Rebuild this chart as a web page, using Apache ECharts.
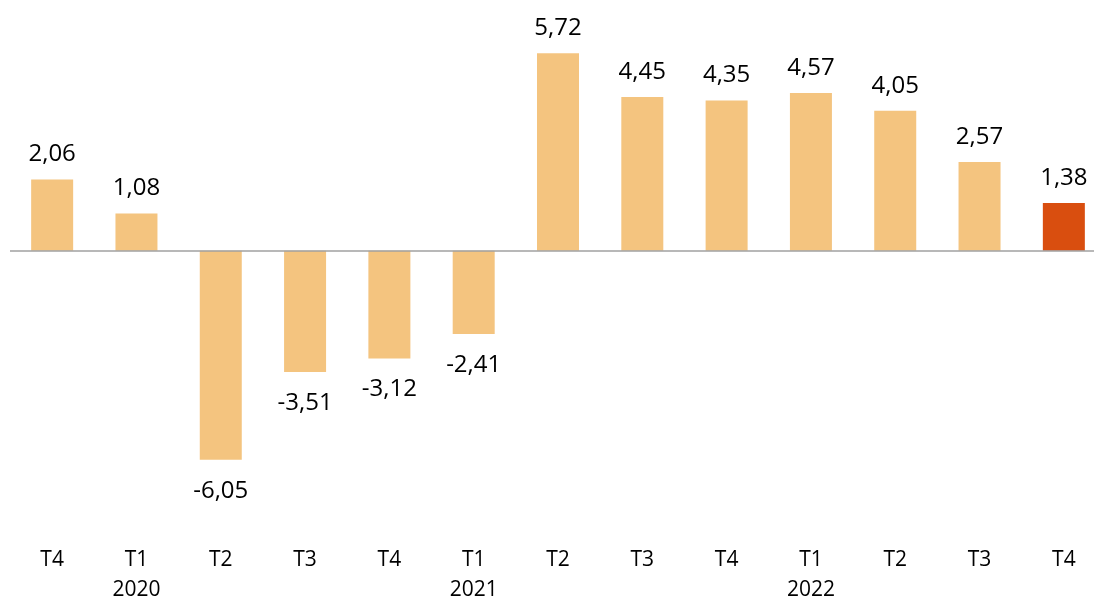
<!DOCTYPE html>
<html>
<head>
<meta charset="utf-8">
<script src="https://cdn.jsdelivr.net/npm/echarts@6/dist/echarts.min.js"></script>
<style>html,body{margin:0;padding:0;background:#fff;}#c{width:1094px;height:596px;}</style>
</head>
<body>
<div id="c"></div>
<script>
const quarters = ['T4','T1','T2','T3','T4','T1','T2','T3','T4','T1','T2','T3','T4'];
const years = ['','2020','','','','2021','','','','2022','','',''];
const values = [2.06, 1.08, -6.05, -3.51, -3.12, -2.41, 5.72, 4.45, 4.35, 4.57, 4.05, 2.57, 1.38];
const highlightIndex = 12;

const categories = quarters.map((q, i) => years[i] ? q + '\n' + years[i] : q);
const FONT = '"Open Sans", "Liberation Sans", sans-serif';

const chart = echarts.init(document.getElementById('c'), null, {renderer: 'canvas'});
chart.setOption({
  animation: false,
  backgroundColor: '#ffffff',
  grid: {left: 10, width: 1096, top: 9, height: 518, outerBoundsMode: 'none', containLabel: false},
  xAxis: {
    type: 'category',
    data: categories,
    axisLine: {show: false, onZero: false},
    axisTick: {show: false},
    axisLabel: {
      color: '#000', fontSize: 21, fontFamily: FONT,
      lineHeight: 30, margin: 18, interval: 0, hideOverlap: false
    },
    splitLine: {show: false}
  },
  yAxis: {
    type: 'value', min: -8, max: 7,
    show: false, splitLine: {show: false}
  },
  series: [{
    type: 'bar',
    barWidth: 42,
    data: values.map((v, i) => ({
      value: v,
      itemStyle: {color: i === highlightIndex ? '#D94E0F' : '#F4C47F'},
      label: {position: v >= 0 ? 'top' : 'bottom', distance: v >= 0 ? 13 : 19}
    })),
    label: {
      show: true, color: '#000', fontSize: 24, fontFamily: FONT, lineHeight: 24,
      formatter: p => p.value.toFixed(2).replace('.', ',')
    },
    markLine: {
      silent: true, symbol: 'none', animation: false,
      label: {show: false},
      lineStyle: {color: '#A0A0A0', width: 1.5, type: 'solid'},
      data: [{yAxis: 0}]
    }
  }]
});
</script>
</body>
</html>
